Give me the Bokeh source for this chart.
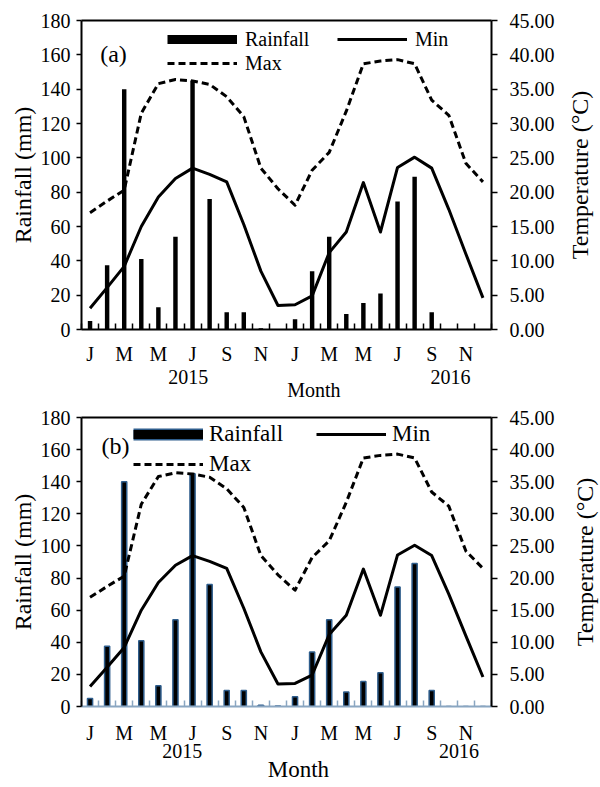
import math
from bokeh.plotting import figure
from bokeh.models import (Range1d, LinearAxis, FixedTicker, ColumnDataSource,
                          Legend, LegendItem, Label)
from bokeh.layouts import column
from bokeh.embed import file_html
from bokeh.resources import INLINE

# ---------------- data ----------------
months = ["Jan 2015", "Feb 2015", "Mar 2015", "Apr 2015", "May 2015", "Jun 2015",
          "Jul 2015", "Aug 2015", "Sep 2015", "Oct 2015", "Nov 2015", "Dec 2015",
          "Jan 2016", "Feb 2016", "Mar 2016", "Apr 2016", "May 2016", "Jun 2016",
          "Jul 2016", "Aug 2016", "Sep 2016", "Oct 2016", "Nov 2016", "Dec 2016"]
month_tick_labels = ["J", "M", "M", "J", "S", "N", "J", "M", "M", "J", "S", "N"]
rainfall = [5, 37.5, 140, 41, 13, 54, 145, 76, 10, 10, 0.8, 0.3,
            6, 34, 54, 9, 15.5, 21, 74.5, 89, 10, 0, 0, 0]
tmin = [3.1, 6.1, 9.2, 15.0, 19.3, 22.0, 23.5, 22.6, 21.5, 15.3, 8.5, 3.5,
        3.6, 4.9, 11.2, 14.2, 21.4, 14.2, 23.6, 25.1, 23.5, 17.5, 11.0, 4.6]
tmax = [17.0, 18.7, 20.3, 31.5, 35.8, 36.4, 36.2, 35.7, 33.9, 31.0, 23.5, 20.5,
        18.1, 23.2, 25.8, 31.8, 38.7, 39.1, 39.3, 38.7, 33.4, 31.2, 24.2, 21.5]
rain_ticks = [0, 20, 40, 60, 80, 100, 120, 140, 160, 180]
temp_ticks = [0, 5, 10, 15, 20, 25, 30, 35, 40, 45]
temp_tick_labels = ["0.00", "5.00", "10.00", "15.00", "20.00", "25.00",
                    "30.00", "35.00", "40.00", "45.00"]
years = ["2015", "2016"]

FONT = "'Liberation Serif', 'Times New Roman', serif"


def make_panel(tag, c):
    n = len(months)
    xs = list(range(n))
    p = figure(width=600, height=c["height"],
               x_range=Range1d(-0.5, n - 0.5), y_range=Range1d(0, 180),
               x_axis_type=None, y_axis_type=None,
               output_backend="svg", toolbar_location=None,
               min_border_left=c["mbl"], min_border_right=c["mbr"],
               min_border_top=c["mbt"], min_border_bottom=c["mbb"])
    p.extra_y_ranges = {"temp": Range1d(0, 45)}
    p.outline_line_color = None
    p.background_fill_color = "white"
    p.border_fill_color = "white"

    def base(ax, color="black"):
        ax.axis_line_color = color
        ax.axis_line_width = 2
        ax.major_tick_line_color = color
        ax.major_tick_line_width = 1.5
        ax.minor_tick_line_color = color
        ax.minor_tick_line_width = 1.5
        ax.major_label_text_font = FONT
        ax.major_label_text_font_size = "20px"
        ax.major_label_text_color = "black"
        ax.axis_label_text_font = FONT
        ax.axis_label_text_font_style = "normal"
        ax.axis_label_text_font_size = "24px"
        ax.axis_label_text_color = "black"

    def bare(ax):
        ax.axis_line_color = None
        ax.major_tick_in = 0
        ax.major_tick_out = 0
        ax.minor_tick_in = 0
        ax.minor_tick_out = 0
        ax.major_label_text_font = FONT
        ax.major_label_text_color = "black"

    left = LinearAxis(ticker=FixedTicker(ticks=rain_ticks), axis_label="Rainfall (mm)")
    base(left)
    left.major_tick_out = 5
    left.major_tick_in = 0
    left.minor_tick_out = 0
    left.minor_tick_in = 0
    left.major_label_standoff = 6
    left.axis_label_standoff = 2
    p.add_layout(left, "left")

    right = LinearAxis(y_range_name="temp", ticker=FixedTicker(ticks=temp_ticks),
                       major_label_overrides=dict(zip(temp_ticks, temp_tick_labels)))
    base(right)
    right.major_tick_out = 6
    right.major_tick_in = 0
    right.minor_tick_out = 0
    right.minor_tick_in = 0
    right.major_label_standoff = 12
    p.add_layout(right, "right")

    # right-hand axis title, reading bottom-to-top, in the side panel
    p.add_layout(Label(x=c["rt_x"], y=c["frame_h"] / 2, x_units="screen", y_units="screen",
                       text="Temperature (°C)", angle=math.pi / 2,
                       text_align="center", text_baseline="middle",
                       text_font=FONT, text_font_size="24px", text_color="black"), "right")

    major_pos = xs[::2]
    bottom = LinearAxis(ticker=FixedTicker(ticks=major_pos,
                                           minor_ticks=[k - 0.5 for k in range(n + 1)]),
                        major_label_overrides=dict(zip(major_pos, month_tick_labels)))
    base(bottom, c["xcolor"])
    bottom.major_tick_in = 0
    bottom.major_tick_out = 0
    bottom.minor_tick_in = 6
    bottom.minor_tick_out = 0
    bottom.major_label_standoff = c["xstand"]
    p.add_layout(bottom, "below")

    year_axis = LinearAxis(ticker=FixedTicker(ticks=c["year_x"]),
                           major_label_overrides=dict(zip(c["year_x"], years)))
    bare(year_axis)
    year_axis.major_label_text_font_size = "20px"
    year_axis.major_label_standoff = c["year_so"]
    p.add_layout(year_axis, "below")

    month_axis = LinearAxis(ticker=FixedTicker(ticks=[c["month_x"]]),
                            major_label_overrides={c["month_x"]: "Month"})
    bare(month_axis)
    month_axis.major_label_text_font_size = c["month_fs"]
    month_axis.major_label_standoff = c["month_so"]
    p.add_layout(month_axis, "below")

    top = LinearAxis(ticker=FixedTicker(ticks=[]))
    base(top)
    top.major_tick_in = 0
    top.major_tick_out = 0
    top.minor_tick_in = 0
    top.minor_tick_out = 0
    top.major_label_text_font_size = "0px"
    p.add_layout(top, "above")

    src = ColumnDataSource(dict(x=xs, month=months, rain=rainfall, tmin=tmin, tmax=tmax))
    p.vbar(x="x", top="rain", bottom=0, width=c["bw"], source=src,
           fill_color="black", line_color=c["bar_line"], line_width=c["bar_lw"])
    lmin = p.line("x", "tmin", source=src, y_range_name="temp",
                  line_color="black", line_width=3, line_join="round")
    lmax = p.line("x", "tmax", source=src, y_range_name="temp",
                  line_color="black", line_width=3, line_dash="7 4", line_join="round")

    # legend-only sample renderers for the rainfall entry (draw nothing in the plot)
    rain_items = []
    if c["bar_line"] is not None:
        rain_items.append(p.line(x=[math.nan], y=[math.nan], line_color=c["bar_line"],
                                 line_width=c["leg_bar"] + 3))
    rain_items.append(p.line(x=[math.nan], y=[math.nan], line_color="black",
                             line_width=c["leg_bar"]))

    legend = Legend(items=[LegendItem(label="Rainfall", renderers=rain_items),
                           LegendItem(label="Min", renderers=[lmin]),
                           LegendItem(label="Max", renderers=[lmax])],
                    orientation="horizontal", ncols=2,
                    location=c["leg_loc"], padding=0, margin=0, spacing=0,
                    glyph_width=70, glyph_height=c["leg_h"],
                    label_height=c["leg_h"], label_width=c["leg_lw"],
                    label_standoff=c["leg_so"],
                    label_text_font=FONT, label_text_font_size=c["leg_fs"],
                    label_text_color="black",
                    background_fill_alpha=0, border_line_alpha=0)
    p.add_layout(legend)

    p.add_layout(Label(x=c["tag_xy"][0], y=c["tag_xy"][1], x_units="screen", y_units="screen",
                       text=tag, text_align="center", text_baseline="middle",
                       text_font=FONT, text_font_size="24px", text_color="black"))
    return p


cfg_a = dict(height=405, frame_h=309, mbl=79, mbr=106, mbt=20, mbb=76, bw=0.26,
             bar_line=None, bar_lw=0, rt_x=22,
             xcolor="black", xstand=13, leg_bar=9, leg_loc=(86, 254), leg_h=24,
             leg_lw=92, leg_so=8, leg_fs="20px", tag_xy=(32, 276),
             year_x=[5.75, 21.1], year_so=2, month_x=13.1, month_so=-8, month_fs="20px")
cfg_b = dict(height=381, frame_h=289, mbl=81, mbr=109, mbt=12, mbb=80, bw=0.3,
             bar_line="#2e5d8c", bar_lw=1.5, rt_x=27,
             xcolor="#8aa6c1", xstand=15, leg_bar=9, leg_loc=(52, 227),
             leg_h=30, leg_lw=107, leg_so=6, leg_fs="23px", tag_xy=(34, 261),
             year_x=[5.4, 21.6], year_so=-3, month_x=12.2, month_so=-4, month_fs="23px")

pa = make_panel("(a)", cfg_a)
pb = make_panel("(b)", cfg_b)
layout = column(pa, pb)

with open("out.html", "w") as f:
    f.write(file_html(layout, INLINE))
